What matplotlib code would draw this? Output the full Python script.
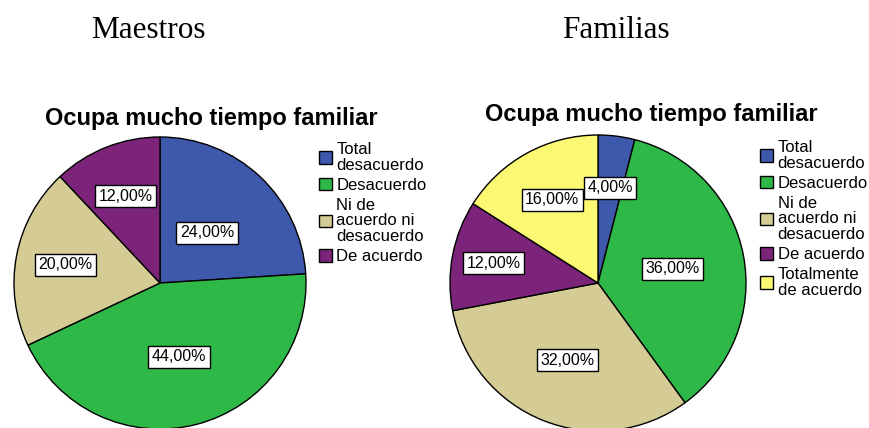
import matplotlib
matplotlib.use("Agg")
import matplotlib.pyplot as plt
import numpy as np

# Data
categories = ["Total\ndesacuerdo", "Desacuerdo", "Ni de\nacuerdo ni\ndesacuerdo",
              "De acuerdo", "Totalmente\nde acuerdo"]
colors_all = ["#3E58AC", "#2EB848", "#D4CC94", "#7B2479", "#FBF873"]
maestros_vals = [24, 44, 20, 12]
familias_vals = [4, 36, 32, 12, 16]
panel_titles = ["Maestros", "Familias"]
chart_title = "Ocupa mucho tiempo familiar"
# radial position of each label (fraction of radius)
maestros_labr = [0.47, 0.52, 0.66, 0.64]
familias_labr = [0.65, 0.51, 0.56, 0.72, 0.64]

W, H = 869, 428
fig = plt.figure(figsize=(W / 100, H / 100), dpi=100)
sans = ["Liberation Sans", "DejaVu Sans"]
serif = ["Liberation Serif", "DejaVu Serif"]


def draw(rect, vals, labr, legend_xy, title_xy, panel_xy, panel_title):
    ax = fig.add_axes(rect)
    n = len(vals)
    wedges, _ = ax.pie(vals, colors=colors_all[:n], startangle=90, counterclock=False,
                       wedgeprops=dict(edgecolor="black", linewidth=1.0))
    ax.set_xlim(-1, 1)
    ax.set_ylim(-1, 1)
    ax.set_aspect("equal")
    ax.axis("off")
    for w, v, r in zip(wedges, vals, labr):
        ang = np.deg2rad((w.theta1 + w.theta2) / 2)
        ax.text(r * np.cos(ang), r * np.sin(ang), f"{v:.2f}".replace(".", ",") + "%",
                ha="center", va="center", fontsize=11.5, family=sans,
                bbox=dict(boxstyle="square,pad=0.22", fc="white", ec="black", lw=1.0))
    leg = fig.legend(wedges, categories[:n], loc="upper left",
                     bbox_to_anchor=(legend_xy[0] / W, 1 - legend_xy[1] / H),
                     frameon=False, prop=dict(family=sans, size=12),
                     handlelength=0.8, handleheight=0.8, handletextpad=0.25,
                     borderpad=0, borderaxespad=0, labelspacing=0.3)
    for t in leg.get_texts():
        t.set_linespacing(1.05)
    for p in leg.get_patches():
        p.set_edgecolor("black")
        p.set_linewidth(1.0)
    fig.text(title_xy[0] / W, 1 - title_xy[1] / H, chart_title, ha="center", va="center",
             fontsize=17, fontweight="bold", family=sans)
    fig.text(panel_xy[0] / W, 1 - panel_xy[1] / H, panel_title, ha="center", va="baseline",
             fontsize=22.5, family=serif)


R1, C1 = 146, (160, 283)
draw([(C1[0] - R1) / W, (H - C1[1] - R1) / H, 2 * R1 / W, 2 * R1 / H],
     maestros_vals, maestros_labr, (319, 142), (211, 118), (148, 38), panel_titles[0])
R2, C2 = 148, (598, 283)
draw([(C2[0] - R2) / W, (H - C2[1] - R2) / H, 2 * R2 / W, 2 * R2 / H],
     familias_vals, familias_labr, (760, 140), (651, 115), (616, 38), panel_titles[1])

fig.savefig("out.png", dpi=100, facecolor="white")
